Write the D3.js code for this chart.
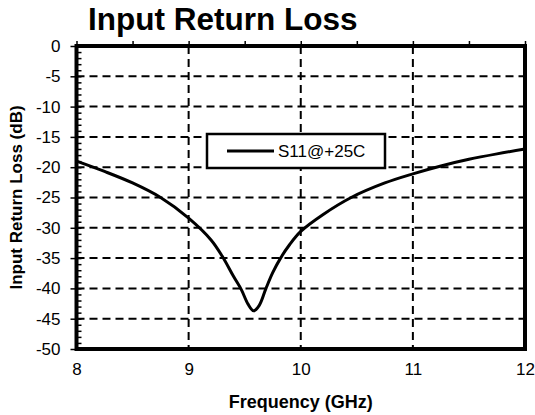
<!DOCTYPE html>
<html>
<head>
<meta charset="utf-8">
<script src="https://cdn.jsdelivr.net/npm/d3@7"></script>
<style>
  body { margin: 0; background: #fff; }
  text { font-family: "Liberation Sans", Arial, sans-serif; fill: #000; }
</style>
</head>
<body>
<svg id="chart" width="535" height="415"></svg>
<script>
// values
const freq = [8.0, 8.25, 8.5, 8.75, 9.0, 9.2, 9.3, 9.4, 9.47, 9.53, 9.58, 9.63, 9.69, 9.75, 9.82, 9.9, 10.0, 10.2, 10.45, 10.75, 11.0, 11.25, 11.5, 11.75, 12.0];
const s11 = [-19.0, -20.7, -22.6, -25.0, -28.4, -32.0, -34.7, -38.0, -40.2, -42.6, -43.7, -42.8, -40.0, -37.4, -35.0, -32.8, -30.6, -27.8, -25.0, -22.6, -21.1, -19.8, -18.7, -17.8, -17.0];
const xTicks = [8, 9, 10, 11, 12];
const yTicks = [0, -5, -10, -15, -20, -25, -30, -35, -40, -45, -50];
const seriesName = "S11@+25C";

const svg = d3.select("#chart"),
  plotL = 76.5, plotR = 525, plotT = 46, plotB = 349;

const x = d3.scaleLinear().domain([8, 12]).range([plotL, plotR]);
const y = d3.scaleLinear().domain([0, -50]).range([plotT, plotB]);

// title
svg.append("text")
  .attr("x", 88).attr("y", 30)
  .style("font-size", "31.5px").style("font-weight", "bold")
  .text("Input Return Loss");

// dashed grid
const grid = svg.append("g")
  .attr("stroke", "#000").attr("stroke-width", 2).attr("stroke-dasharray", "8,5");
grid.selectAll(".gx").data(xTicks.slice(1, -1)).join("line")
  .attr("x1", d => x(d)).attr("x2", d => x(d)).attr("y1", plotT).attr("y2", plotB);
grid.selectAll(".gy").data(yTicks.slice(1, -1)).join("line")
  .attr("x1", plotL).attr("x2", plotR).attr("y1", d => y(d)).attr("y2", d => y(d));

// left axis: outward major ticks + labels (plain hyphen minus)
const yAxis = svg.append("g")
  .attr("transform", `translate(${plotL},0)`)
  .call(d3.axisLeft(y).tickValues(yTicks).tickSize(6).tickPadding(10).tickFormat(d => String(d)));
yAxis.select(".domain").remove();
yAxis.selectAll("line").attr("stroke", "#000").attr("stroke-width", 1.5);
yAxis.selectAll("text").style("font-size", "17px");

// inner minor ticks every 1 dB
svg.append("g")
  .attr("transform", `translate(${plotL},0)`)
  .call(d3.axisRight(y).ticks(50).tickSize(5).tickFormat(""))
  .call(g => g.select(".domain").remove())
  .selectAll("line").attr("stroke", "#000").attr("stroke-width", 1.5);

// top ticks every 0.5 GHz
svg.append("g")
  .attr("transform", `translate(0,${plotT})`)
  .call(d3.axisTop(x).ticks(8).tickSize(5).tickFormat(""))
  .call(g => g.select(".domain").remove())
  .selectAll("line").attr("stroke", "#000").attr("stroke-width", 1.5);

// bottom labels
const xAxis = svg.append("g")
  .attr("transform", `translate(0,${plotB})`)
  .call(d3.axisBottom(x).tickValues(xTicks).tickSize(0).tickPadding(14).tickFormat(d => String(d)));
xAxis.select(".domain").remove();
xAxis.selectAll("text").style("font-size", "17px");

// curve
const line = d3.line()
  .x((d, i) => x(freq[i]))
  .y(d => y(d))
  .curve(d3.curveCatmullRom.alpha(0.5));
svg.append("path")
  .datum(s11)
  .attr("fill", "none").attr("stroke", "#000").attr("stroke-width", 3)
  .attr("stroke-linejoin", "round")
  .attr("d", line);

// frame
svg.append("rect")
  .attr("x", plotL).attr("y", plotT)
  .attr("width", plotR - plotL).attr("height", plotB - plotT)
  .attr("fill", "none").attr("stroke", "#000").attr("stroke-width", 4);

// legend
const lg = svg.append("g").attr("transform", "translate(207,134)");
lg.append("rect")
  .attr("width", 178).attr("height", 34)
  .attr("fill", "#fff").attr("stroke", "#000").attr("stroke-width", 2.5);
lg.append("line")
  .attr("x1", 20).attr("x2", 67).attr("y1", 17).attr("y2", 17)
  .attr("stroke", "#000").attr("stroke-width", 3);
lg.append("text")
  .attr("x", 71).attr("y", 23)
  .style("font-size", "17px")
  .text(seriesName);

// axis titles
svg.append("text")
  .attr("x", (plotL + plotR) / 2).attr("y", 408)
  .attr("text-anchor", "middle")
  .style("font-size", "18px").style("font-weight", "bold")
  .text("Frequency (GHz)");

svg.append("text")
  .attr("transform", `translate(22,${(plotT + plotB) / 2}) rotate(-90)`)
  .attr("text-anchor", "middle")
  .style("font-size", "17px").style("font-weight", "bold")
  .text("Input Return Loss (dB)");
</script>
</body>
</html>
